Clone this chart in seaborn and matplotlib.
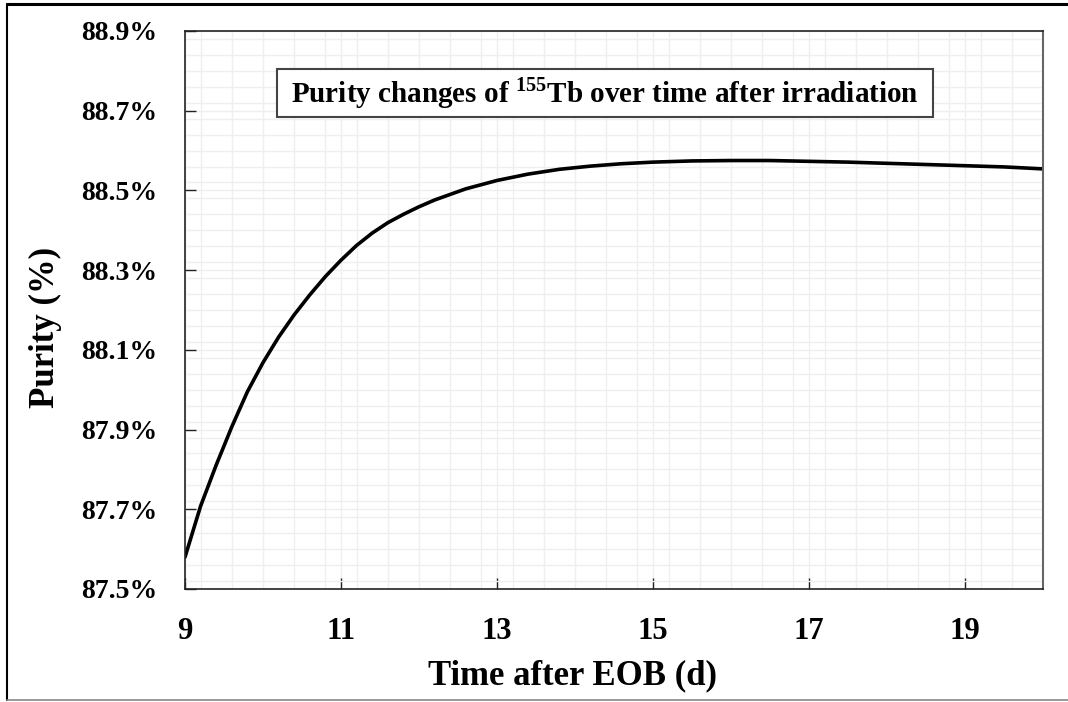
import matplotlib
matplotlib.use("Agg")
import matplotlib.pyplot as plt
import seaborn as sns
from matplotlib.lines import Line2D
from matplotlib.patches import Rectangle
from matplotlib.ticker import MultipleLocator, FuncFormatter

# Data (time after EOB in days, purity in %)
time_days = [9.0, 9.2, 9.4, 9.6, 9.8, 10.0, 10.2, 10.4, 10.6, 10.8, 11.0,
             11.2, 11.4, 11.6, 11.8, 12.0, 12.2, 12.6, 13.0, 13.4, 13.8,
             14.2, 14.6, 15.0, 15.5, 16.0, 16.5, 17.0, 17.5, 18.0, 18.5,
             19.0, 19.5, 20.0]
purity_pct = [87.580, 87.708, 87.811, 87.907, 87.995, 88.068, 88.132, 88.188,
              88.238, 88.284, 88.325, 88.362, 88.393, 88.419, 88.440, 88.459,
              88.476, 88.504, 88.525, 88.541, 88.553, 88.561, 88.567, 88.571,
              88.574, 88.575, 88.575, 88.573, 88.571, 88.568, 88.565, 88.562,
              88.559, 88.554]

x_ticks = [9, 11, 13, 15, 17, 19]
y_ticks = [87.5, 87.7, 87.9, 88.1, 88.3, 88.5, 88.7, 88.9]

title_text = r"Purity changes of $^{\mathbf{155}}$Tb over time after irradiation"
x_label = "Time after EOB (d)"
y_label = "Purity (%)"

sns.set_theme(style="white")
plt.rcParams['font.family'] = ['Liberation Serif', 'DejaVu Serif']
plt.rcParams['font.weight'] = 'bold'
plt.rcParams['text.color'] = 'black'
plt.rcParams['axes.labelcolor'] = 'black'
plt.rcParams['mathtext.fontset'] = 'custom'
plt.rcParams['mathtext.rm'] = 'Liberation Serif:bold'
plt.rcParams['mathtext.bf'] = 'Liberation Serif:bold'

fig = plt.figure(figsize=(10.68, 7.02), dpi=100)
ax = fig.add_axes([185 / 1068, 113 / 702, 858 / 1068, 558 / 702])

sns.lineplot(x=time_days, y=purity_pct, ax=ax, color='black', linewidth=2.6)

ax.set_xlim(9, 20)
ax.set_ylim(87.5, 88.9)
ax.set_xticks(x_ticks)
ax.set_yticks(y_ticks)
ax.xaxis.set_minor_locator(MultipleLocator(0.4))
ax.yaxis.set_minor_locator(MultipleLocator(0.04))
ax.yaxis.set_major_formatter(FuncFormatter(lambda v, p: f"{v:.1f}%"))

ax.grid(True, which='both', color='#efefef', linewidth=1.0)
ax.set_axisbelow(True)
ax.tick_params(which='major', direction='in', length=8, width=1.0,
               color='#222222', labelcolor='black')
ax.tick_params(axis='y', which='major', pad=20, left=True, labelsize=20)
ax.tick_params(axis='x', which='major', pad=20, bottom=True, labelsize=22)
ax.tick_params(which='minor', length=0)
for lbl in ax.get_xticklabels() + ax.get_yticklabels():
    lbl.set_fontweight('bold')

for side in ['left', 'bottom', 'top']:
    ax.spines[side].set_color('#222222')
    ax.spines[side].set_linewidth(1.2)
ax.spines['right'].set_color('#666666')
ax.spines['right'].set_linewidth(1.5)

ax.set_xlabel(x_label, fontsize=25, fontweight='bold', labelpad=10,
              color='black')
ax.set_ylabel(y_label, fontsize=25, fontweight='bold', labelpad=14,
              color='black')
ax.xaxis.label.set_x((573 - 185) / 858)
ax.yaxis.label.set_y((589 - 327) / 558)

# Title box inside the plot
ax.add_patch(Rectangle((0.1072, 0.8459), 0.7646, 0.086, transform=ax.transAxes,
                       facecolor='white', edgecolor='#444444', linewidth=1.5,
                       zorder=5))
ax.text(0.4895, 0.889, title_text, transform=ax.transAxes, ha='center',
        va='center', fontsize=21, fontweight='bold', color='black', zorder=6)

# Outer frame around the figure
fig.add_artist(Line2D([7 / 1068, 1.0], [1 - 4 / 702, 1 - 4 / 702],
                      color='black', linewidth=2.2))
fig.add_artist(Line2D([7 / 1068, 7 / 1068], [1 - 4 / 702, 2 / 702],
                      color='black', linewidth=1.5))
fig.add_artist(Line2D([7 / 1068, 1.0], [2 / 702, 2 / 702],
                      color='#888888', linewidth=1.2))

fig.savefig('out.png', dpi=100)
